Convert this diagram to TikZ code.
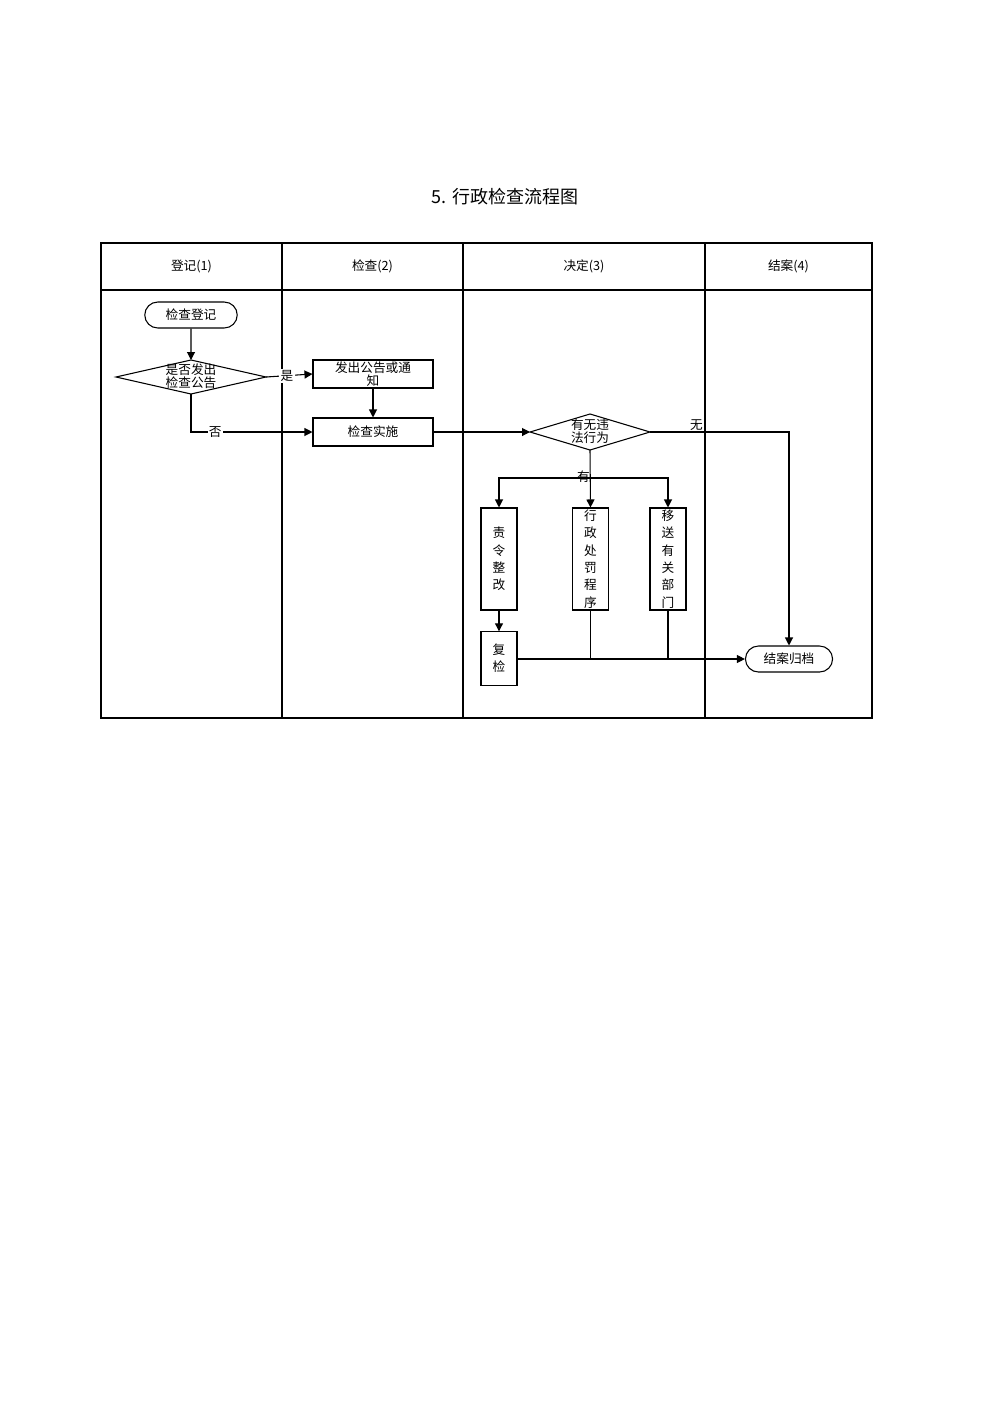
\documentclass[tikz,border=0pt]{standalone}
\usepackage{fontspec}
\setmainfont{Noto Sans CJK SC}
\usetikzlibrary{shapes.geometric,shapes.misc,arrows.meta}
\begin{document}
\begin{tikzpicture}[x=0.75pt,y=-0.75pt,
  every node/.style={font=\fontsize{9.5pt}{11pt}\selectfont},
  box/.style={draw,line width=0.8pt,inner sep=1pt,align=center},
  term/.style={draw,line width=0.8pt,rounded rectangle,minimum height=19.5pt,minimum width=76pt},
  arr/.style={line width=0.8pt,-{Triangle[length=6pt,width=6pt]}},
  ln/.style={line width=0.8pt}]
\useasboundingbox (0,0) rectangle (1000,1414);
\node[font=\fontsize{13.5pt}{15pt}\selectfont] (title) at (505,197) {5. 行政检查流程图};
% table
\draw[line width=1pt] (101,243) rectangle (872,718);
\draw[line width=1pt] (101,290) -- (872,290);
\foreach \x in {282,463,705} \draw[line width=1pt] (\x,243) -- (\x,718);
\node (h1) at (191.5,266) {登记(1)};
\node (h2) at (372.5,266) {检查(2)};
\node (h3) at (584,266) {决定(3)};
\node (h4) at (788.5,266) {结案(4)};
% nodes
\node[term,minimum width=76pt] (start) at (191,315) {检查登记};
\draw[ln] (116,377) -- (191,360) -- (266,377) -- (191,394) -- cycle;
\node[align=center,font=\fontsize{9.5pt}{9.5pt}\selectfont] (d1) at (191,376) {是否发出\\检查公告};
\coordinate (d1l) at (191,394); \coordinate (d1r) at (266,377); \coordinate (d1t) at (191,360);
\node[box,minimum width=90pt,minimum height=21pt,font=\fontsize{9.5pt}{9.5pt}\selectfont] (notice) at (373,374) {发出公告或通\\知};
\node[box,minimum width=90pt,minimum height=21pt] (exec) at (373,432) {检查实施};
\draw[ln] (530,432) -- (590,414) -- (650,432) -- (590,450) -- cycle;
\node[align=center,font=\fontsize{9.5pt}{9.5pt}\selectfont] (d2) at (590,431) {有无违\\法行为};
\coordinate (d2l) at (530,432); \coordinate (d2r) at (650,432); \coordinate (d2b) at (590,450);
\node[box,minimum width=27pt,minimum height=76.5pt,font=\fontsize{9.5pt}{13pt}\selectfont] (b1) at (499,559) {责\\令\\整\\改};
\node[box,minimum width=27pt,minimum height=76.5pt,font=\fontsize{9.5pt}{13pt}\selectfont] (b2) at (590.5,559) {行\\政\\处\\罚\\程\\序};
\node[box,minimum width=27pt,minimum height=76.5pt,font=\fontsize{9.5pt}{13pt}\selectfont] (b3) at (668,559) {移\\送\\有\\关\\部\\门};
\node[box,minimum width=27pt,minimum height=40pt,font=\fontsize{9.5pt}{13pt}\selectfont] (b4) at (499,658.5) {复\\检};
\node[term,minimum width=72pt] (end) at (789,659) {结案归档};
% connectors
\draw[arr] (start) -- (d1t);
\draw[arr] (d1r) -- (notice.west) node[pos=0.45,fill=white,inner sep=1pt] {是};
\draw[arr] (d1l) |- (exec.west) node[pos=0.6,fill=white,inner sep=1pt] {否};
\draw[arr] (notice) -- (exec);
\draw[arr] (exec.east) -- (d2l);
\draw[arr] (d2r) -| (end.north) node[pos=0.1,above,inner sep=1pt,xshift=14pt] {无};
\draw[arr] (d2b) -- (b2.north) node[pos=0.55,left,inner sep=1pt,xshift=1pt,yshift=4pt] {有};
\coordinate (br) at (590,478);
\draw[arr] (br) -| (b1.north);
\draw[arr] (br) -| (b3.north);
\draw[arr] (b1) -- (b4);
\draw[arr] (b4.east |- end) -- (end.west);
\draw[ln] (b2.south) -- (b2.south |- end);
\draw[ln] (b3.south) -- (b3.south |- end);
\end{tikzpicture}
\end{document}
